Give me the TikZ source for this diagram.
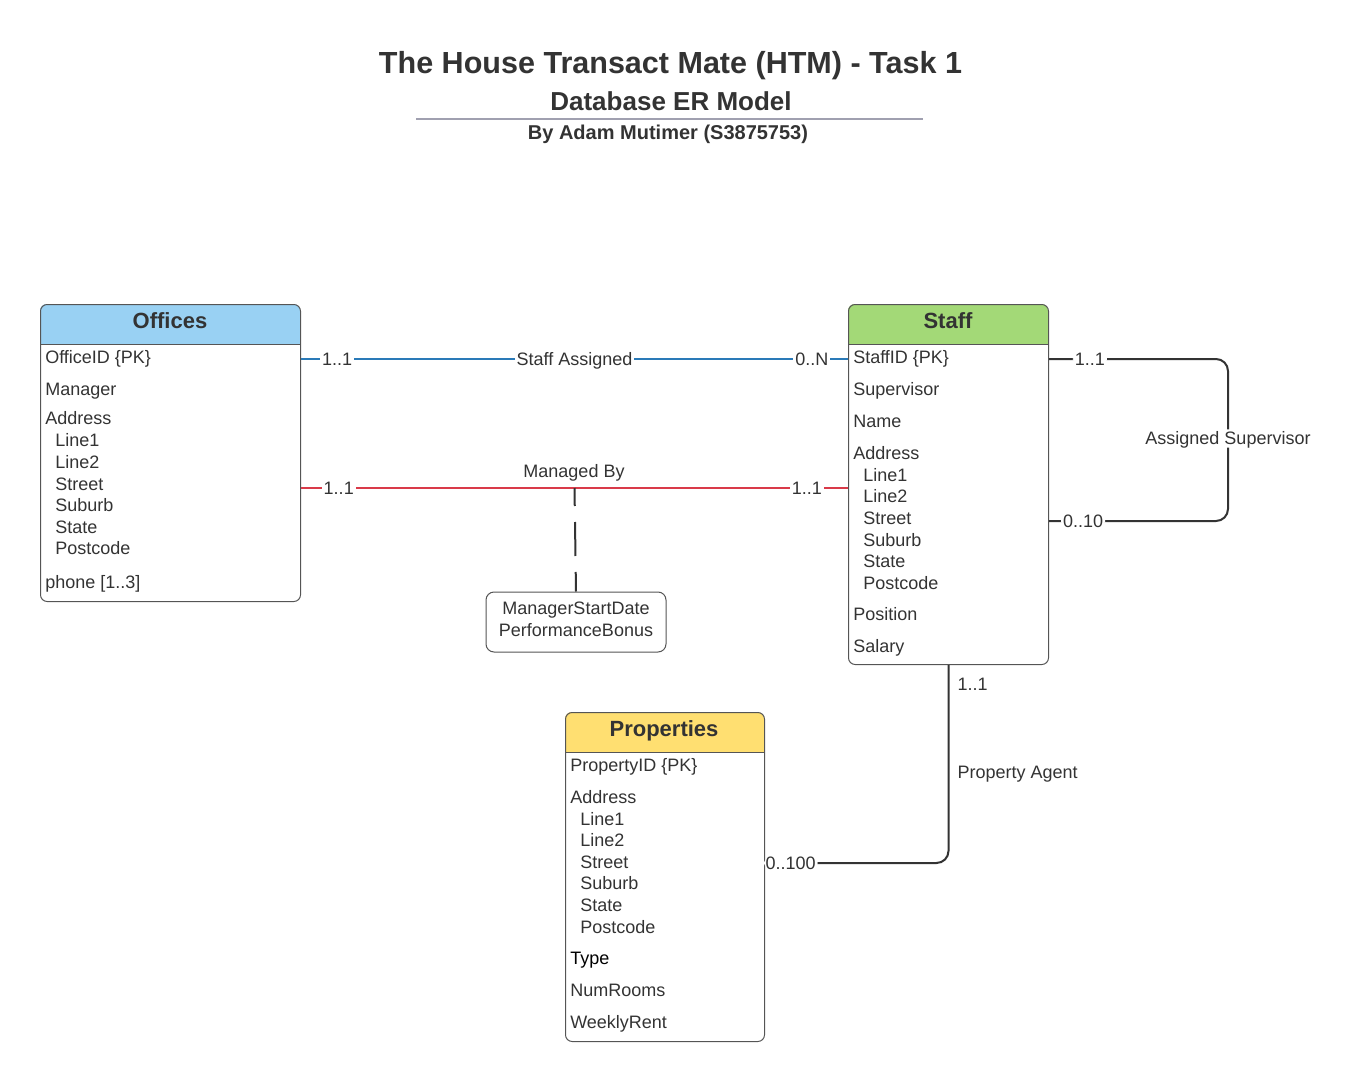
\documentclass[tikz,border=0pt]{standalone}
\usepackage{fontspec}
\setmainfont{Liberation Sans}
\definecolor{tc}{HTML}{333333}
\definecolor{bc}{HTML}{555555}
\definecolor{offc}{HTML}{99D1F3}
\definecolor{stfc}{HTML}{A3D977}
\definecolor{prpc}{HTML}{FFDF71}
\definecolor{bluel}{HTML}{2A7AB8}
\definecolor{redl}{HTML}{D93A49}
\definecolor{dk}{HTML}{333333}
\definecolor{rulec}{HTML}{A0A0B0}
\begin{document}
\begin{tikzpicture}[x=0.75pt,y=-0.75pt,
 txt/.style={text=tc, font=\fontsize{13.5}{16.5}\selectfont, inner sep=0pt, text height=9.7pt, text depth=0pt},
 attr/.style={txt, anchor=west},
 ent/.style={draw=bc, line width=0.75pt, rounded corners=5pt, inner sep=0pt, anchor=north west},
 hdr/.style={font=\bfseries\fontsize{16.5}{20}\selectfont, text=tc, inner sep=0pt, text height=11.9pt, text depth=0pt},
 lbl/.style={txt, fill=white, inner xsep=1.5pt, inner ysep=2pt},
 rel/.style={line width=1.5pt}]
\useasboundingbox (0,0) rectangle (1350,1081);

% ---- title ----
\node[font=\bfseries\fontsize{22.9}{27}\selectfont, text=tc] (title) at (670.5,66) {The House Transact Mate (HTM) - Task 1};
\node[font=\bfseries\fontsize{19.5}{23}\selectfont, text=tc] (subtitle) at (671,101) {Database ER Model};
\node[font=\bfseries\fontsize{15}{18}\selectfont, text=tc] (author) at (668,134) {By Adam Mutimer (S3875753)};
\draw[rulec, line width=1.5pt] (416,119) -- (923,119);

% ---- Offices ----
\begin{scope}
\clip[rounded corners=5pt] (40,304) rectangle (300,601);
\fill[offc] (40,304) rectangle (300,344);
\end{scope}
\node[ent, minimum width=195pt, minimum height=222.75pt] (off) at (40,304) {};
\draw[bc, line width=0.75pt] (off.west |- 0,344) -- (off.east |- 0,344);
\node[hdr] (offh) at (170,321) {Offices};
\node[attr] (o1) at (45,357) {OfficeID \{PK\}};
\node[attr] (o2) at (45,389) {Manager};
\node[attr] (o3) at (45,418) {Address};
\node[attr] (o4) at (55,440) {Line1};
\node[attr] (o5) at (55,462) {Line2};
\node[attr] (o6) at (55,484) {Street};
\node[attr] (o7) at (55,505) {Suburb};
\node[attr] (o8) at (55,527) {State};
\node[attr] (o9) at (55,548) {Postcode};
\node[attr] (o10) at (45,582) {phone [1..3]};

% ---- Staff ----
\begin{scope}
\clip[rounded corners=5pt] (848,304) rectangle (1048,664);
\fill[stfc] (848,304) rectangle (1048,344);
\end{scope}
\node[ent, minimum width=150pt, minimum height=270pt] (staff) at (848,304) {};
\draw[bc, line width=0.75pt] (staff.west |- 0,344) -- (staff.east |- 0,344);
\node[hdr] (staffh) at (948,321) {Staff};
\node[attr] (s1) at (853,357) {StaffID \{PK\}};
\node[attr] (s2) at (853,389) {Supervisor};
\node[attr] (s3) at (853,421) {Name};
\node[attr] (s4) at (853,453) {Address};
\node[attr] (s5) at (863,475) {Line1};
\node[attr] (s6) at (863,496) {Line2};
\node[attr] (s7) at (863,518) {Street};
\node[attr] (s8) at (863,540) {Suburb};
\node[attr] (s9) at (863,561) {State};
\node[attr] (s10) at (863,583) {Postcode};
\node[attr] (s11) at (853,614) {Position};
\node[attr] (s12) at (853,646) {Salary};

% ---- Properties ----
\begin{scope}
\clip[rounded corners=5pt] (565,712) rectangle (764,1041);
\fill[prpc] (565,712) rectangle (764,752);
\end{scope}
\node[ent, minimum width=149.25pt, minimum height=246.75pt] (prop) at (565,712) {};
\draw[bc, line width=0.75pt] (prop.west |- 0,752) -- (prop.east |- 0,752);
\node[hdr] (proph) at (664,729) {Properties};
\node[attr] (p1) at (570,765) {PropertyID \{PK\}};
\node[attr] (p2) at (570,797) {Address};
\node[attr] (p3) at (580,819) {Line1};
\node[attr] (p4) at (580,840) {Line2};
\node[attr] (p5) at (580,862) {Street};
\node[attr] (p6) at (580,883) {Suburb};
\node[attr] (p7) at (580,905) {State};
\node[attr] (p8) at (580,927) {Postcode};
\node[attr, text=black] (p9) at (570,958) {Type};
\node[attr] (p10) at (570,990) {NumRooms};
\node[attr] (p11) at (570,1022) {WeeklyRent};

% ---- relationship attribute box ----
\node[draw=bc, line width=0.75pt, rounded corners=6pt, minimum width=135pt, minimum height=45pt,
      inner sep=0pt] (mattr) at (576,622) {};
\node[txt] (ma1) at (576,608) {ManagerStartDate};
\node[txt] (ma2) at (576,630) {PerformanceBonus};

% ---- Staff Assigned ----
\draw[rel, bluel] (off.east |- 0,359) --
   node[lbl, pos=0.066] (sa1) {1..1}
   node[lbl, pos=0.5] (sa) {Staff Assigned}
   node[lbl, pos=0.934] (sa2) {0..N}
   (staff.west |- 0,359);

% ---- Managed By ----
\draw[rel, redl] (off.east |- 0,488) --
   node[lbl, pos=0.069] (mb1) {1..1}
   coordinate[pos=0.5] (mbmid)
   node[lbl, pos=0.925] (mb2) {1..1}
   (staff.west |- 0,488);
\node[txt] (mb) at (574,471) {Managed By};
\draw[dk, line width=1.5pt, dash pattern=on 25.5pt off 12pt, dash phase=12pt] (mbmid) -- (mattr.north);

% ---- Assigned Supervisor ----
\draw[rel, dk, rounded corners=9pt] (staff.east |- 0,359) --
   node[lbl, pos=0.228] (as1) {1..1}
   (1228,359) --
   node[lbl, pos=0.49] (as) {Assigned Supervisor}
   (1228,521) --
   node[lbl, pos=0.81] (as2) {0..10}
   (staff.east |- 0,521);

% ---- Property Agent ----
\draw[rel, dk, rounded corners=9pt] (staff.south) --
   node[attr, pos=0.095, xshift=6pt] (pa1) {1..1}
   node[attr, pos=0.54, xshift=6pt] (pa) {Property Agent}
   (staff.south |- 0,863) --
   node[lbl, pos=0.86] (pa2) {0..100}
   (prop.east |- 0,863);
\end{tikzpicture}
\end{document}
